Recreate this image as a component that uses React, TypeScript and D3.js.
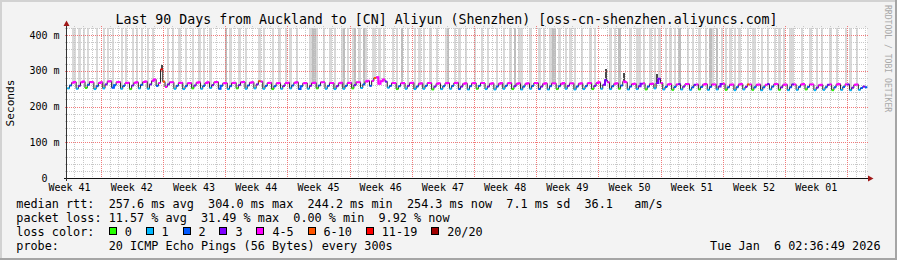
import React from "react";
import * as d3 from "d3";

const W = 897;
const H = 260;
const PLOT = { left: 67, right: 867, top: 28, bottom: 178 };
const Y_MAX = 420;
const DAYS = 90;

const title = "Last 90 Days from Auckland to [CN] Aliyun (Shenzhen) [oss-cn-shenzhen.aliyuncs.com]";
const weekLabels = ["Week 41", "Week 42", "Week 43", "Week 44", "Week 45", "Week 46", "Week 47", "Week 48", "Week 49", "Week 50", "Week 51", "Week 52", "Week 01"];
const firstWeekStartDay = 3.79; // days after chart start
const yTickValues = [0, 100, 200, 300, 400];
const yTickLabels = ["0", "100 m", "200 m", "300 m", "400 m"];
const yTickSuffixChars = [2, 0, 0, 0, 0];

const sampleStartDay = 0.15;
const sampleStepDay = 0.25;

// median rtt (ms), 4 samples per day
const medianMs = [
  251, 259, 267, 269, 250, 258, 268, 270, 252, 261, 269, 268, 249, 257, 266, 268, 251, 262, 270, 271,
  253, 260, 268, 269, 250, 258, 266, 267, 249, 259, 267, 268, 251, 261, 269, 270, 250, 262, 272, 276,
  258, 266, 304, 270, 255, 262, 268, 268, 250, 258, 266, 267, 249, 257, 265, 266, 251, 259, 267, 268,
  250, 258, 266, 268, 252, 260, 268, 269, 250, 258, 265, 266, 249, 257, 266, 267, 251, 260, 268, 269,
  250, 259, 267, 268, 251, 262, 271, 270, 250, 258, 266, 267, 249, 257, 265, 266, 250, 258, 266, 267,
  251, 259, 267, 268, 249, 257, 265, 266, 250, 258, 266, 267, 251, 259, 268, 268, 250, 258, 266, 266,
  249, 257, 265, 267, 250, 258, 266, 267, 251, 260, 268, 268, 252, 262, 270, 272, 258, 272, 280, 282,
  264, 271, 276, 270, 253, 258, 266, 266, 249, 257, 265, 266, 250, 258, 266, 267, 249, 256, 264, 265,
  250, 258, 266, 266, 248, 256, 264, 265, 249, 257, 265, 266, 250, 258, 266, 267, 249, 256, 264, 265,
  248, 257, 265, 266, 250, 258, 266, 266, 249, 256, 264, 265, 248, 256, 264, 266, 250, 258, 265, 266,
  249, 257, 264, 265, 248, 256, 264, 265, 250, 258, 266, 266, 249, 256, 264, 265, 248, 257, 265, 265,
  249, 257, 264, 266, 250, 258, 265, 265, 248, 256, 264, 265, 249, 257, 265, 266, 249, 258, 266, 268,
  250, 261, 274, 268, 249, 257, 264, 265, 250, 259, 270, 268, 248, 256, 263, 264, 249, 257, 264, 265,
  248, 256, 263, 264, 251, 266, 278, 266, 248, 255, 262, 263, 247, 255, 262, 263, 248, 256, 263, 263,
  247, 254, 261, 262, 248, 255, 262, 263, 247, 255, 262, 262, 248, 256, 263, 264, 247, 254, 261, 262,
  246, 254, 262, 263, 248, 255, 262, 262, 247, 254, 261, 262, 246, 254, 261, 263, 248, 256, 263, 263,
  247, 254, 261, 262, 246, 254, 262, 262, 247, 255, 262, 263, 248, 255, 262, 262, 246, 253, 260, 261,
  247, 254, 261, 262, 246, 254, 262, 263, 247, 255, 262, 262, 246, 253, 261, 262, 247, 252, 256, 254,
];

// lost pings out of 20 per sample
const lossCount = [
  1, 2, 4, 5, 1, 3, 4, 4, 0, 2, 5, 4, 1, 2, 4, 5, 1, 3, 5, 4,
  2, 2, 4, 4, 1, 2, 5, 5, 0, 3, 4, 4, 1, 2, 4, 5, 1, 3, 5, 5,
  2, 4, 14, 6, 4, 3, 4, 4, 1, 2, 4, 5, 1, 2, 4, 4, 0, 3, 5, 4,
  1, 2, 4, 5, 1, 3, 4, 4, 2, 2, 5, 4, 1, 2, 4, 5, 0, 3, 4, 4,
  1, 2, 5, 4, 1, 3, 6, 5, 1, 2, 4, 4, 0, 2, 4, 5, 1, 3, 4, 4,
  1, 2, 5, 4, 2, 2, 4, 4, 1, 3, 4, 5, 0, 2, 4, 4, 1, 2, 5, 4,
  1, 3, 4, 4, 1, 2, 4, 5, 0, 3, 4, 4, 1, 2, 5, 5, 2, 4, 6, 5,
  4, 5, 4, 3, 1, 2, 4, 4, 0, 2, 4, 5, 1, 3, 4, 4, 1, 2, 4, 4,
  1, 2, 5, 4, 0, 3, 4, 4, 1, 2, 4, 5, 1, 2, 4, 4, 2, 3, 4, 4,
  1, 2, 5, 4, 0, 2, 4, 4, 1, 3, 4, 5, 1, 2, 4, 4, 1, 2, 4, 5,
  0, 3, 4, 4, 1, 2, 5, 4, 1, 2, 4, 4, 2, 3, 4, 5, 1, 2, 4, 4,
  0, 2, 4, 4, 1, 3, 5, 4, 1, 2, 4, 4, 1, 2, 4, 5, 0, 3, 4, 4,
  1, 3, 3, 4, 1, 2, 4, 4, 0, 2, 5, 4, 1, 2, 4, 4, 1, 3, 3, 4,
  0, 2, 4, 4, 1, 3, 3, 4, 1, 2, 4, 4, 0, 2, 4, 3, 1, 3, 4, 4,
  1, 2, 3, 4, 0, 2, 4, 4, 1, 2, 4, 5, 1, 3, 3, 4, 0, 2, 4, 4,
  1, 2, 4, 4, 1, 3, 7, 4, 0, 2, 4, 4, 1, 2, 4, 3, 1, 2, 4, 4,
  0, 3, 4, 4, 1, 2, 3, 4, 1, 2, 4, 4, 0, 2, 4, 5, 1, 3, 4, 4,
  1, 2, 3, 4, 0, 2, 4, 4, 1, 2, 4, 3, 1, 3, 4, 4, 1, 2, 3, 2,
];

// spread of the slowest pings above the median (ms) per sample; 400 = many slow pings
const smokeSpreadMs = [
  0, 0, 300, 300, 0, 300, 0, 300, 0, 300, 0, 0, 0, 300, 0, 0, 300, 0, 300, 0,
  300, 0, 0, 0, 300, 0, 300, 0, 0, 300, 0, 300, 0, 300, 0, 0, 300, 0, 300, 0,
  0, 0, 12, 0, 0, 300, 0, 300, 0, 0, 300, 0, 0, 300, 0, 0, 300, 0, 0, 300,
  0, 300, 0, 0, 300, 0, 0, 0, 0, 0, 0, 400, 0, 300, 0, 0, 0, 300, 0, 0,
  300, 0, 0, 0, 0, 0, 300, 0, 300, 0, 0, 0, 300, 0, 0, 300, 0, 0, 300, 0,
  300, 0, 0, 300, 0, 0, 0, 0, 0, 300, 400, 400, 300, 0, 0, 300, 0, 0, 300, 0,
  300, 0, 0, 300, 400, 0, 300, 0, 300, 400, 0, 300, 0, 400, 300, 0, 0, 300, 300, 0,
  300, 0, 300, 0, 0, 0, 300, 0, 300, 0, 400, 0, 0, 300, 0, 0, 300, 0, 300, 0,
  300, 0, 0, 300, 0, 0, 300, 0, 0, 0, 300, 400, 0, 0, 300, 0, 300, 0, 0, 300,
  0, 0, 0, 300, 0, 0, 300, 0, 0, 300, 0, 0, 0, 300, 0, 0, 300, 0, 0, 300,
  0, 400, 0, 300, 300, 0, 0, 0, 300, 0, 0, 0, 300, 0, 300, 0, 0, 300, 400, 400,
  0, 300, 0, 0, 300, 0, 300, 0, 300, 0, 0, 300, 0, 0, 0, 300, 0, 300, 0, 0,
  0, 0, 30, 0, 300, 0, 300, 0, 400, 0, 25, 0, 0, 300, 0, 0, 300, 300, 0, 300,
  0, 0, 300, 0, 300, 25, 300, 0, 0, 300, 0, 300, 0, 300, 0, 400, 0, 0, 0, 300,
  0, 300, 0, 0, 300, 0, 0, 300, 0, 400, 300, 0, 400, 0, 300, 0, 300, 0, 300, 0,
  300, 0, 300, 0, 0, 0, 300, 0, 300, 300, 0, 0, 300, 0, 0, 300, 0, 0, 300, 0,
  300, 0, 300, 0, 0, 300, 300, 0, 0, 0, 300, 0, 0, 0, 300, 0, 0, 300, 0, 300,
  0, 0, 0, 300, 0, 0, 300, 0, 0, 0, 300, 0, 300, 0, 0, 300, 0, 0, 0, 0,
];

const lossLegend = ["0", "1", "2", "3", "4-5", "6-10", "11-19", "20/20"];
const lossColors = ["#26ff00", "#00b8ff", "#0059ff", "#7e00ff", "#ff00ff", "#ff5500", "#ff0000", "#a00000"];

const statsRtt = "median rtt:  257.6 ms avg  304.0 ms max  244.2 ms min  254.3 ms now  7.1 ms sd  36.1   am/s";
const statsLoss = "packet loss: 11.57 % avg  31.49 % max  0.00 % min  9.92 % now";
const lossLabel = "loss color:";
const probeLine = "probe:       20 ICMP Echo Pings (56 Bytes) every 300s";
const dateLine = "Tue Jan  6 02:36:49 2026";
const unitLabel = "Seconds";
const watermark = "RRDTOOL / TOBI OETIKER";

const MONO = "'DejaVu Sans Mono', monospace";
const LEG_FS = 11.8;
const CW = LEG_FS * 0.602;
const AX_FS = 10;

function lossBucket(c: number): number {
  if (c <= 3) return c;
  if (c <= 5) return 4;
  if (c <= 10) return 5;
  if (c <= 19) return 6;
  return 7;
}

export default function App() {
  const x = d3.scaleLinear().domain([0, DAYS]).range([PLOT.left, PLOT.right]);
  const y = d3.scaleLinear().domain([0, Y_MAX]).range([PLOT.bottom, PLOT.top]);
  const n = medianMs.length;
  const tAt = (i: number) => sampleStartDay + i * sampleStepDay;
  const half = (x(sampleStepDay) - x(0)) / 2;
  const px = (v: number) => Math.round(v) + 0.5;

  const dayLines = d3.range(firstWeekStartDay % 1, DAYS, 1);
  const weekLines = d3.range(firstWeekStartDay, DAYS, 7);
  const minorY = d3.range(20, Y_MAX + 1, 20).filter((v) => v % 100 !== 0);
  const majorY = d3.range(100, Y_MAX + 1, 100);

  const stepPts: [number, number][] = [];
  for (let i = 0; i < n; i++) {
    const cx = x(tAt(i));
    const cy = y(medianMs[i]);
    stepPts.push([Math.max(PLOT.left, cx - half), cy]);
    stepPts.push([cx + half, cy]);
  }
  const line = d3.line<[number, number]>();

  const runs: { color: string; pts: [number, number][] }[] = [];
  let cur: { color: string; pts: [number, number][] } | null = null;
  for (let i = 0; i < n; i++) {
    const color = lossColors[lossBucket(lossCount[i])];
    if (!cur || cur.color !== color) {
      cur = { color, pts: [] };
      runs.push(cur);
    }
    cur.pts.push(stepPts[2 * i], stepPts[2 * i + 1]);
  }

  const boxStart = 16.3 + 13 * CW;
  const boxes: { bx: number; lx: number; label: string; color: string }[] = [];
  let bx = boxStart;
  lossLegend.forEach((label, k) => {
    const lx = bx + 2.25 * CW;
    boxes.push({ bx, lx, label, color: lossColors[k] });
    bx = lx + (label.length + 1.95) * CW;
  });

  const textStyle: React.CSSProperties = { whiteSpace: "pre" };

  return (
    <svg
      width={W}
      height={H}
      viewBox={`0 0 ${W} ${H}`}
      style={{ position: "absolute", left: 0, top: 0, display: "block" }}
      fontFamily={MONO}
    >
      <rect x={0} y={0} width={W} height={H} fill="#f3f3f3" />
      <rect x={0} y={0} width={W} height={2} fill="#d2d2d2" />
      <rect x={0} y={0} width={2} height={H} fill="#d2d2d2" />
      <rect x={0} y={H - 2} width={W} height={2} fill="#a5a5a5" />
      <rect x={W - 2} y={0} width={2} height={H} fill="#a5a5a5" />

      <rect x={PLOT.left} y={PLOT.top} width={PLOT.right - PLOT.left} height={PLOT.bottom - PLOT.top} fill="#ffffff" />

      <g shapeRendering="crispEdges">
        {smokeSpreadMs.map((s, i) => {
          if (s <= 0) return null;
          const cx = x(tAt(i));
          const top = Math.min(Y_MAX, medianMs[i] + s);
          const y0 = y(top);
          const y1 = y(medianMs[i]);
          const fill = s < 80 ? "#4a4a4a" : s >= 400 ? "#bdbdbd" : "#d9d9d9";
          return (
            <rect key={i} x={Math.max(PLOT.left, cx - half)} y={y0} width={half * 2} height={y1 - y0} fill={fill} />
          );
        })}
      </g>

      <g fill="none" strokeWidth={1} strokeDasharray="1,1" shapeRendering="crispEdges">
        {minorY.map((v) => (
          <line key={`my${v}`} x1={PLOT.left - 2} x2={PLOT.right + 2} y1={px(y(v))} y2={px(y(v))} stroke="#c8c8c8" />
        ))}
        {dayLines
          .filter((d) => !weekLines.some((w) => Math.abs(w - d) < 0.01))
          .map((d) => (
            <line key={`mx${d}`} x1={px(x(d))} x2={px(x(d))} y1={PLOT.top - 2} y2={PLOT.bottom + 2} stroke="#c8c8c8" />
          ))}
        {majorY.map((v) => (
          <line key={`My${v}`} x1={PLOT.left - 2} x2={PLOT.right + 2} y1={px(y(v))} y2={px(y(v))} stroke="#f07a7a" />
        ))}
        {weekLines.map((d) => (
          <line key={`Mx${d}`} x1={px(x(d))} x2={px(x(d))} y1={PLOT.top - 2} y2={PLOT.bottom + 2} stroke="#f07a7a" />
        ))}
      </g>

      <path d={line(stepPts) || ""} fill="none" stroke="#222" strokeWidth={1} />
      {runs.map((r, k) => (
        <path key={k} d={line(r.pts) || ""} fill="none" stroke={r.color} strokeWidth={2} />
      ))}

      <line x1={PLOT.left - 3} x2={PLOT.right + 2} y1={PLOT.bottom + 0.5} y2={PLOT.bottom + 0.5} stroke="#111" strokeWidth={1} />
      <line x1={PLOT.left - 0.5} x2={PLOT.left - 0.5} y1={PLOT.bottom + 3} y2={PLOT.top - 4} stroke="#333" strokeWidth={1} />
      <path
        d={`M${PLOT.right + 1},${PLOT.bottom - 2.5} L${PLOT.right + 6.5},${PLOT.bottom + 0.5} L${PLOT.right + 1},${PLOT.bottom + 3.5} Z`}
        fill="#a01818"
      />
      <path
        d={`M${PLOT.left - 3.5},${PLOT.top - 2} L${PLOT.left - 0.5},${PLOT.top - 7.5} L${PLOT.left + 2.5},${PLOT.top - 2} Z`}
        fill="#a01818"
      />

      {yTickValues.map((v, k) => (
        <text
          key={`yl${v}`}
          x={59.6 - yTickSuffixChars[k] * AX_FS * 0.602}
          y={y(v) + 3.6}
          fontSize={AX_FS}
          textAnchor="end"
          fill="#000"
          style={textStyle}
        >
          {yTickLabels[k]}
        </text>
      ))}

      {weekLabels.map((lab, k) => (
        <text key={lab} x={x(firstWeekStartDay + 7 * k - 3.5)} y={190.5} fontSize={AX_FS} textAnchor="middle" fill="#000">
          {lab}
        </text>
      ))}

      <text x={446.5} y={23.5} fontSize={13.25} textAnchor="middle" fill="#000" style={textStyle}>
        {title}
      </text>

      <text transform="translate(14.2,103) rotate(-90)" fontSize={11.1} textAnchor="middle" fill="#000">
        {unitLabel}
      </text>

      <text transform="translate(885,5) rotate(90)" fontSize={8.1} fill="#a8a8a8" style={textStyle}>
        {watermark}
      </text>

      <g fontSize={LEG_FS} fill="#000">
        <text x={16.3} y={207.5} style={textStyle}>{statsRtt}</text>
        <text x={16.3} y={221.7} style={textStyle}>{statsLoss}</text>
        <text x={16.3} y={235.9} style={textStyle}>{lossLabel}</text>
        {boxes.map((b) => (
          <g key={b.label}>
            <rect x={Math.round(b.bx) + 0.5} y={227.5} width={7} height={7} fill={b.color} stroke="#000" strokeWidth={1} />
            <text x={b.lx} y={235.9} style={textStyle}>{b.label}</text>
          </g>
        ))}
        <text x={16.3} y={250.1} style={textStyle}>{probeLine}</text>
        <text x={880.5} y={250.1} textAnchor="end" style={textStyle}>{dateLine}</text>
      </g>
    </svg>
  );
}
